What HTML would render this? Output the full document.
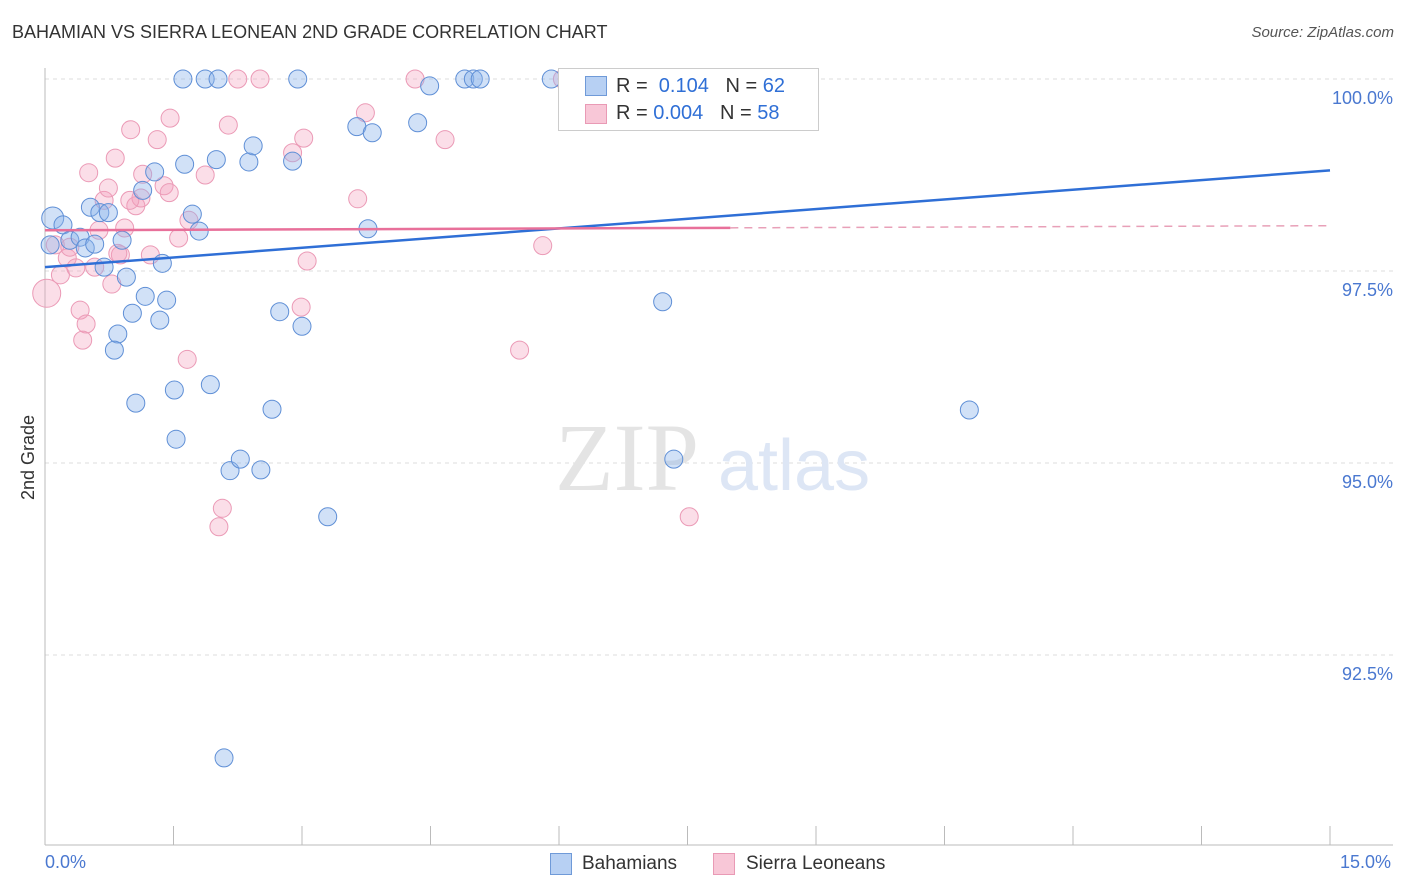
<!DOCTYPE html>
<html><head><meta charset="utf-8"><style>
body{margin:0;background:#fff;font-family:"Liberation Sans",sans-serif;}
#wrap{position:relative;width:1406px;height:892px;overflow:hidden;}
.t{position:absolute;white-space:nowrap;}
</style></head><body>
<div id="wrap">
<div class="t" style="left:12px;top:22px;font-size:18px;color:#333;">BAHAMIAN VS SIERRA LEONEAN 2ND GRADE CORRELATION CHART</div>
<div class="t" style="right:12px;top:24px;font-size:15px;color:#555;font-style:italic;">Source: ZipAtlas.com</div>
<svg id="svg" width="1406" height="892" style="position:absolute;left:0;top:0"></svg>
</div>
<script>
const blueX=[1.61,1.87,2.02,2.95,4.49,4.90,5.00,5.08,5.91,7.48,0.09,0.21,0.29,0.41,0.47,0.58,0.53,0.64,0.74,0.69,0.90,0.95,0.85,0.81,1.02,1.17,1.14,1.28,1.42,1.34,1.37,1.63,1.72,1.80,2.00,2.38,2.43,2.89,3.64,3.82,4.35,3.77,1.06,1.51,1.53,1.93,2.16,2.28,2.52,2.65,2.74,3.00,3.30,2.09,7.21,7.34,10.79,0.06];
const blueY=[100,100,100,100,99.91,100,100,100,100,100,98.19,98.10,97.90,97.94,97.80,97.85,98.33,98.26,98.26,97.55,97.90,97.42,96.68,96.47,96.95,97.17,98.55,98.79,97.12,96.86,97.60,98.89,98.24,98.02,98.95,98.92,99.13,98.93,99.38,99.30,99.43,98.05,95.78,95.95,95.31,96.02,94.90,95.05,94.91,95.70,96.97,96.78,94.30,91.16,97.10,95.05,95.69,97.84];
const pinkX=[0.02,0.12,0.18,0.26,0.29,0.36,0.41,0.48,0.44,0.51,0.58,0.63,0.69,0.74,0.78,0.82,0.88,0.93,1.00,1.06,1.12,1.14,1.31,1.39,1.46,1.45,1.56,1.66,1.68,1.87,2.07,2.03,2.14,2.25,2.51,2.89,3.02,2.99,3.06,3.65,3.74,4.32,4.67,5.54,5.81,6.04,7.52,0.85,0.99,1.23];
const pinkY=[97.21,97.84,97.45,97.67,97.81,97.54,96.99,96.81,96.60,98.78,97.55,98.03,98.42,98.58,97.33,98.97,97.71,98.06,99.34,98.35,98.45,98.76,99.21,98.61,99.49,98.52,97.93,96.35,98.16,98.75,94.41,94.17,99.40,100,100,99.04,99.23,97.03,97.63,98.44,99.56,100,99.21,96.47,97.83,100,94.30,97.73,98.42,97.71];
const blueTrend=[97.55,98.81];
const pinkTrend=[98.03,98.09];
const pinkSolidEnd=8.0;
const yTicks=[100,97.5,95,92.5];
const yTickLabels=["100.0%","97.5%","95.0%","92.5%"];
const xTicks=[0,1.5,3,4.5,6,7.5,9,10.5,12,13.5,15];

const X0=45,X1=1330,Y100=79,PX25=192;
const sx=v=>X0+(v/15)*(X1-X0);
const sy=v=>Y100+(100-v)/2.5*PX25;
const svg=document.getElementById('svg');
const NS='http://www.w3.org/2000/svg';
function mk(tag,attrs,parent){const e=document.createElementNS(NS,tag);for(const k in attrs)e.setAttribute(k,attrs[k]);(parent||svg).appendChild(e);return e;}

yTicks.forEach((t,i)=>{
  const g=mk('line',{x1:X0,x2:1393,y1:sy(t),y2:sy(t),stroke:'#ddd','stroke-dasharray':'4,4'});
  
  
  const tx=mk('text',{x:1393,y:sy(t)+25,'text-anchor':'end','font-size':18,fill:'#4a78d0','font-family':'Liberation Sans'});
  tx.textContent=yTickLabels[i];
  
  
});
const ax=mk('line',{x1:X0,x2:X0,y1:68,y2:845,stroke:'#bbb'});


const bx=mk('line',{x1:X0,x2:1393,y1:845,y2:845,stroke:'#bbb'});


xTicks.forEach(t=>{
  const l=mk('line',{x1:sx(t),x2:sx(t),y1:826,y2:845,stroke:'#bbb'});
  
  
});
// watermark
const w1=mk('text',{x:555,y:490,'font-size':96,fill:'#e4e4e4','font-family':'Liberation Serif'});w1.textContent='ZIP';


const w2=mk('text',{x:718,y:490,'font-size':72,fill:'#dde6f5','font-family':'Liberation Sans'});w2.textContent='atlas';



pinkX.forEach((x,i)=>{
  const c=mk('circle',{cx:sx(x),cy:sy(pinkY[i]),r:i===0?14:9,fill:'rgba(244,160,190,0.35)',stroke:'#eb9ab6','stroke-width':1});
  
  
});
blueX.forEach((x,i)=>{
  const c=mk('circle',{cx:sx(x),cy:sy(blueY[i]),r:i===10?11:9,fill:'rgba(140,180,235,0.4)',stroke:'#5f8fd6','stroke-width':1});
  
  
});
const bl=mk('line',{x1:sx(0),y1:sy(blueTrend[0]),x2:sx(15),y2:sy(blueTrend[1]),stroke:'#2f6fd6','stroke-width':2.5});


const pm=pinkTrend[0]+(pinkTrend[1]-pinkTrend[0])*pinkSolidEnd/15;
const pl=mk('line',{x1:sx(0),y1:sy(pinkTrend[0]),x2:sx(pinkSolidEnd),y2:sy(pm),stroke:'#e8709a','stroke-width':2.5});


const pd=mk('line',{x1:sx(pinkSolidEnd),y1:sy(pm),x2:sx(15),y2:sy(pinkTrend[1]),stroke:'#e8a0b8','stroke-width':1.5,'stroke-dasharray':'8,6'});


</script>
<div class="t" style="left:18px;top:500px;transform:rotate(-90deg);transform-origin:0 0;font-size:18px;color:#333;">2nd Grade</div>
<div class="t" style="left:45px;top:852px;font-size:18px;color:#4a78d0;">0.0%</div>
<div class="t" style="left:1340px;top:852px;font-size:18px;color:#4a78d0;">15.0%</div>
<div class="t" style="left:558px;top:68px;width:259px;height:61px;border:1px solid #ccc;background:#fff;font-size:20px;">
 <div class="t" style="left:26px;top:7px;width:20px;height:18px;background:#b7d0f3;border:1px solid #6f9ad8;"></div>
 <div class="t" style="left:57px;top:6px;color:#333;">R = &nbsp;<span style="color:#2f6fd6">0.104</span> &nbsp;&nbsp;N = <span style="color:#2f6fd6">62</span></div>
 <div class="t" style="left:26px;top:35px;width:20px;height:18px;background:#f8c7d7;border:1px solid #e99ab5;"></div>
 <div class="t" style="left:57px;top:33px;color:#333;">R = <span style="color:#2f6fd6">0.004</span> &nbsp;&nbsp;N = <span style="color:#2f6fd6">58</span></div>
</div>
<div class="t" style="left:550px;top:853px;width:20px;height:20px;background:#b7d0f3;border:1px solid #6f9ad8;"></div>
<div class="t" style="left:582px;top:853px;font-size:19px;color:#333;">Bahamians</div>
<div class="t" style="left:713px;top:853px;width:20px;height:20px;background:#f8c7d7;border:1px solid #e99ab5;"></div>
<div class="t" style="left:746px;top:853px;font-size:19px;color:#333;">Sierra Leoneans</div>
</body></html>
